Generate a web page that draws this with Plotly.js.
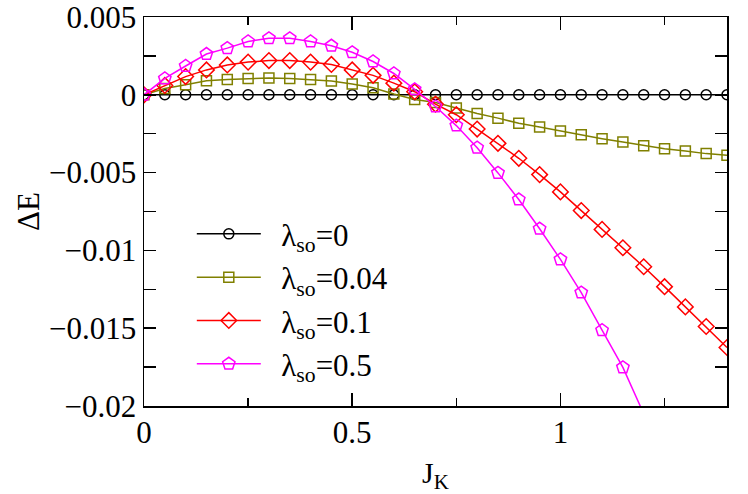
<!DOCTYPE html>
<html>
<head>
<meta charset="utf-8">
<script src="https://cdn.plot.ly/plotly-3.0.1.min.js"></script>
<style>html,body{margin:0;padding:0;background:#fff;}#chart{width:748px;height:494px;}</style>
</head>
<body>
<div id="chart"></div>
<script>
// J_K values
const jk = [0,0.05,0.1,0.15,0.2,0.25,0.3,0.35,0.4,0.45,0.5,0.55,0.6,0.65,0.7,0.75,0.8,0.85,0.9,0.95,1.0,1.05,1.1,1.15,1.2,1.25,1.3,1.35,1.4];
const dE_0 = [0,0,0,0,0,0,0,0,0,0,0,0,0,0,0,0,0,0,0,0,0,0,0,0,0,0,0,0,0];
const dE_004 = [0,0.0004,0.00065,0.0009,0.00098,0.00105,0.00108,0.00105,0.00098,0.00088,0.0007,0.00045,0.00005,-0.0003,-0.0005,-0.00085,-0.0012,-0.0015,-0.00183,-0.00207,-0.00233,-0.00257,-0.00282,-0.00304,-0.00327,-0.00346,-0.00361,-0.00378,-0.00389];
const dE_01 = [0,0.0006,0.00117,0.0016,0.00192,0.0021,0.0022,0.0022,0.0021,0.00195,0.0016,0.00125,0.00075,0.0002,-0.0006,-0.00128,-0.0022,-0.00312,-0.00408,-0.00513,-0.00624,-0.00744,-0.00865,-0.00983,-0.01105,-0.01233,-0.01363,-0.01489,-0.01624];
const jk05 = [0,0.05,0.1,0.15,0.2,0.25,0.3,0.35,0.4,0.45,0.5,0.55,0.6,0.65,0.7,0.75,0.8,0.85,0.9,0.95,1.0,1.05,1.1,1.15,1.2];
const dE_05 = [0,0.00105,0.00185,0.00262,0.003,0.00343,0.00363,0.00363,0.00343,0.00315,0.00273,0.00214,0.00137,0.00035,-0.00075,-0.00198,-0.0034,-0.00502,-0.00673,-0.00861,-0.01058,-0.01271,-0.01513,-0.01752,-0.0205];
const names = ['\u2002λ<sub>so</sub>=0','\u2002λ<sub>so</sub>=0.04','\u2002λ<sub>so</sub>=0.1','\u2002λ<sub>so</sub>=0.5'];
const yTickVals = [0.005,0,-0.005,-0.01,-0.015,-0.02];
const yTickText = ['0.005','0','\u22120.005','\u22120.01','\u22120.015','\u22120.02'];
const xTickVals = [0,0.5,1];
const xTickText = ['0','0.5','1'];

const font = 'Liberation Serif';
function tr(x, y, name, color, symbol, size) {
  return {x: x, y: y, name: name, type: 'scatter', mode: 'lines+markers',
    line: {color: color, width: 1.5},
    marker: {symbol: symbol, size: size, color: color, line: {color: color, width: 1.5}},
    cliponaxis: true};
}
const data = [
  tr(jk, dE_0, names[0], '#000000', 'circle-open', 10),
  tr(jk, dE_004, names[1], '#808000', 'square-open', 10),
  tr(jk, dE_01, names[2], '#ff0000', 'diamond-open', 12),
  tr(jk05, dE_05, names[3], '#ff00ff', 'pentagon-open', 13)
];
const layout = {
  width: 748, height: 494,
  margin: {l: 144, r: 21, t: 17, b: 88},
  paper_bgcolor: '#fff', plot_bgcolor: '#fff',
  font: {family: font, size: 31, color: '#000'},
  showlegend: true,
  legend: {x: 0.082, y: 0.511, xanchor: 'left', yanchor: 'top', bgcolor: 'rgba(0,0,0,0)',
    font: {family: font, size: 31, color: '#000'}, itemwidth: 64, tracegroupgap: 0},
  xaxis: {range: [0, 1.4], tickmode: 'array', tickvals: xTickVals, ticktext: xTickText,
    ticks: 'inside', ticklen: 13, tickwidth: 1.5, tickcolor: '#000',
    minor: {dtick: 0.25, tick0: 0, ticks: 'inside', ticklen: 8, tickwidth: 1.5, tickcolor: '#000', showgrid: false},
    showline: true, linecolor: '#000', linewidth: 1.5, mirror: 'allticks', showgrid: false, zeroline: false,
    tickfont: {family: font, size: 31}, ticklabelstandoff: -2, ticklabeloverflow: 'allow',
    title: {text: 'J<sub>K</sub>', font: {family: font, size: 30}, standoff: 22}, automargin: false},
  yaxis: {range: [-0.02, 0.005], tickmode: 'array', tickvals: yTickVals, ticktext: yTickText,
    ticks: 'inside', ticklen: 12, tickwidth: 1.5, tickcolor: '#000',
    minor: {dtick: 0.0025, tick0: 0, ticks: 'inside', ticklen: 12, tickwidth: 1.5, tickcolor: '#000', showgrid: false},
    showline: true, linecolor: '#000', linewidth: 1.5, mirror: 'allticks', showgrid: false, zeroline: false,
    tickfont: {family: font, size: 31}, ticklabelstandoff: 0, ticklabeloverflow: 'allow',
    title: {text: 'ΔE', font: {family: font, size: 31}, standoff: 0}, automargin: false}
};
Plotly.newPlot('chart', data, layout, {staticPlot: true, displayModeBar: false});
</script>
</body>
</html>
